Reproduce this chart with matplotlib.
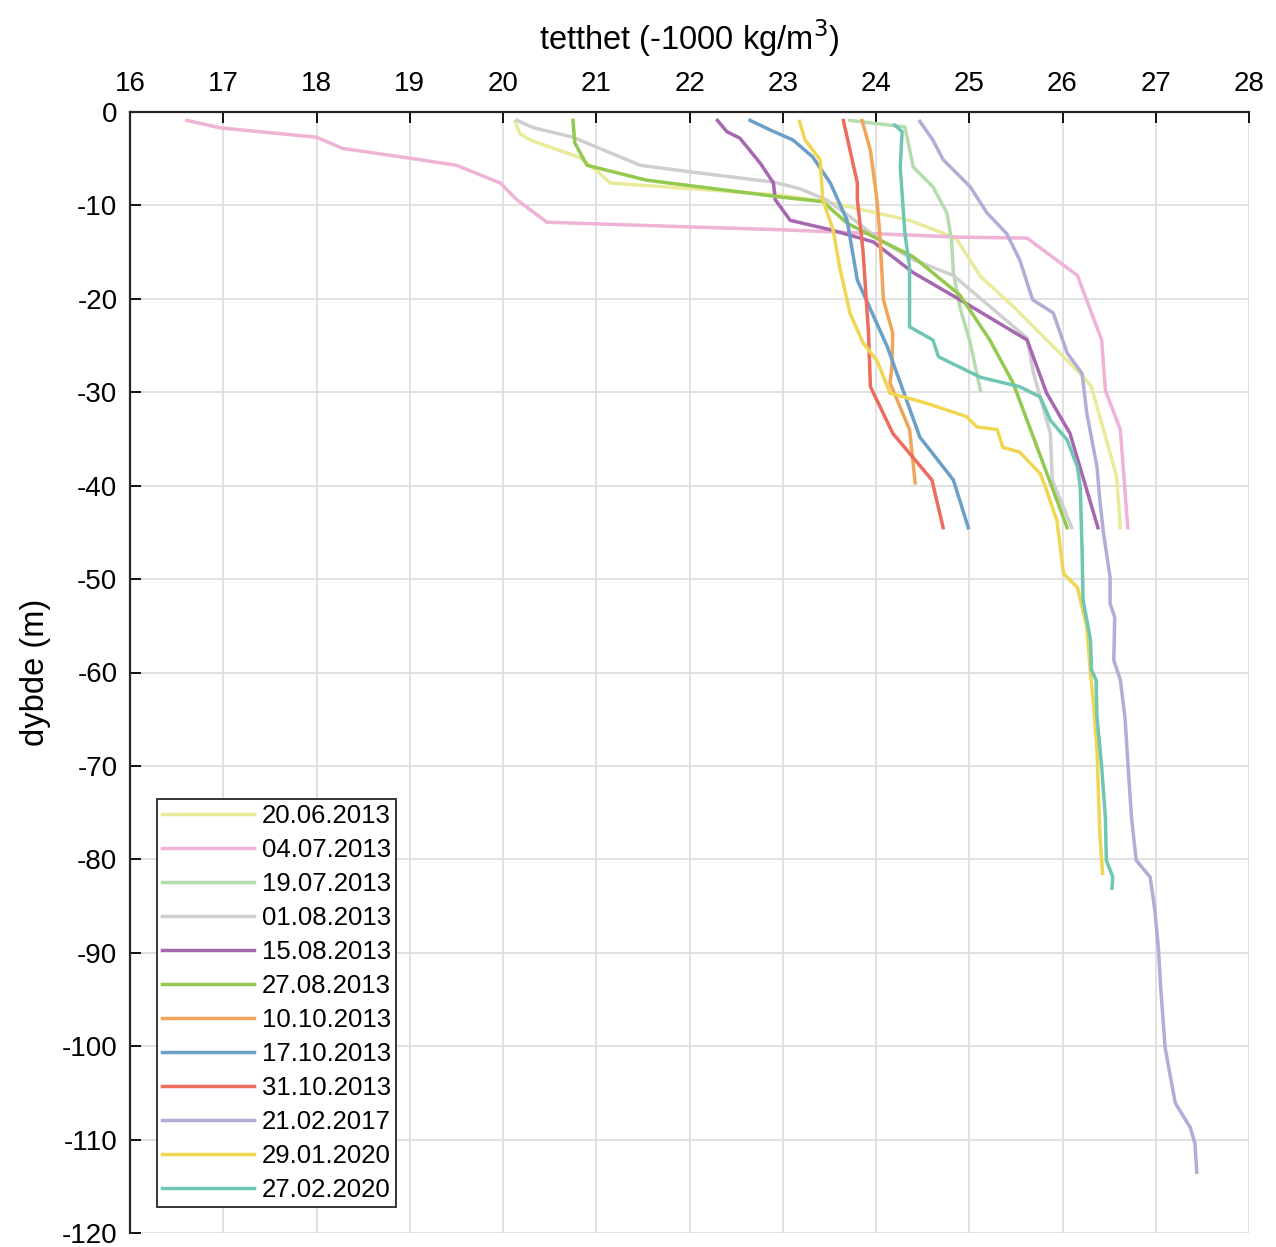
import matplotlib
matplotlib.use("Agg")
import matplotlib.pyplot as plt

plt.rcParams.update({
    "font.family": ["Liberation Sans", "DejaVu Sans"],
    "font.size": 19,
    "axes.unicode_minus": False,
})

# tetthet (sigma) og dybde for hvert tokt
d_20062013 = [20.15, 20.13, 20.18, 20.29, 20.83, 21.04, 21.15, 22.0, 22.97, 23.47, 23.69,
              24.36, 24.83, 24.87, 25.12, 25.47, 26.19, 26.31, 26.58, 26.62]
z_20062013 = [-0.9, -1.0, -2.3, -3.0, -4.9, -6.6, -7.6, -8.2, -8.9, -9.6, -10.1,
              -11.6, -13.4, -13.7, -17.6, -20.8, -28.0, -29.4, -39.0, -44.5]

d_04072013 = [16.61, 16.97, 18.0, 18.28, 18.97, 19.5, 19.97, 20.15, 20.47, 22.0, 22.97,
              24.9, 25.62, 26.16, 26.42, 26.46, 26.62, 26.70]
z_04072013 = [-0.9, -1.7, -2.7, -3.9, -4.9, -5.7, -7.6, -9.4, -11.8, -12.3, -12.6,
              -13.4, -13.5, -17.5, -24.4, -29.8, -34.0, -44.5]

d_19072013 = [23.72, 24.31, 24.40, 24.61, 24.76, 24.81, 24.83, 24.90, 25.01, 25.12]
z_19072013 = [-0.9, -1.6, -5.9, -8.0, -10.8, -13.7, -17.2, -20.9, -24.7, -29.8]

d_01082013 = [20.15, 20.33, 20.75, 21.47, 22.0, 22.9, 23.18, 23.47, 23.72, 24.04, 24.40,
              24.83, 25.62, 25.69, 25.87, 25.89, 26.10]
z_01082013 = [-0.9, -1.7, -2.7, -5.7, -6.4, -7.5, -8.2, -9.4, -11.2, -13.7, -15.8,
              -17.5, -24.2, -28.0, -34.4, -39.4, -44.5]

d_15082013 = [22.30, 22.40, 22.54, 22.76, 22.90, 22.92, 23.08, 23.51, 23.97, 24.40, 24.90,
              25.62, 25.83, 26.08, 26.38]
z_15082013 = [-0.9, -2.1, -2.8, -5.5, -7.6, -9.4, -11.6, -12.6, -13.9, -17.2, -20.1,
              -24.4, -30.1, -34.4, -44.5]

d_27082013 = [20.75, 20.77, 20.90, 21.54, 22.97, 23.43, 23.69, 24.04, 24.40, 24.90, 25.22,
              25.47, 26.05]
z_27082013 = [-0.9, -3.3, -5.7, -7.3, -9.1, -9.6, -11.9, -13.7, -15.5, -19.6, -24.4,
              -29.0, -44.5]

d_10102013 = [23.85, 23.94, 24.01, 24.04, 24.08, 24.18, 24.17, 24.15, 24.36, 24.42]
z_10102013 = [-0.9, -4.1, -9.4, -13.0, -20.1, -23.7, -27.3, -29.0, -34.0, -39.7]

d_17102013 = [22.65, 22.86, 23.11, 23.32, 23.51, 23.69, 23.80, 24.12, 24.29, 24.47, 24.83,
              24.99]
z_17102013 = [-0.9, -1.9, -3.0, -4.8, -7.6, -11.6, -18.0, -25.1, -29.8, -34.8, -39.4,
              -44.5]

d_31102013 = [23.65, 23.80, 23.80, 23.86, 23.92, 23.94, 24.18, 24.60, 24.72]
z_31102013 = [-0.9, -7.6, -9.4, -14.8, -23.7, -29.4, -34.4, -39.4, -44.5]

d_21022017 = [24.47, 24.61, 24.72, 24.90, 25.01, 25.19, 25.40, 25.54, 25.68, 25.90, 26.05,
              26.21, 26.26, 26.37, 26.40, 26.44, 26.51, 26.51, 26.56, 26.55, 26.62, 26.67,
              26.72, 26.74, 26.79, 26.94, 26.99, 27.03, 27.05, 27.10, 27.15, 27.21, 27.37,
              27.42, 27.44]
z_21022017 = [-1.0, -3.0, -5.1, -6.9, -8.0, -10.8, -13.0, -15.8, -20.1, -21.5, -25.8,
              -28.0, -32.2, -38.0, -41.5, -45.1, -49.8, -52.6, -54.1, -58.7, -60.8, -64.8,
              -72.6, -75.5, -80.1, -81.9, -85.4, -89.7, -93.3, -100.1, -102.9, -106.1, -108.7,
              -110.4, -113.5]

d_29012020 = [23.18, 23.24, 23.40, 23.43, 23.54, 23.61, 23.72, 23.86, 24.01, 24.15, 24.55,
              24.97, 25.08, 25.30, 25.36, 25.54, 25.76, 25.83, 25.90, 25.94, 26.01, 26.16,
              26.26, 26.30, 26.33, 26.37, 26.40, 26.43]
z_29012020 = [-1.0, -3.0, -5.1, -9.4, -12.6, -16.6, -21.5, -24.7, -26.6, -30.1, -31.2,
              -32.6, -33.7, -34.0, -35.9, -36.4, -38.7, -40.5, -42.6, -43.7, -49.4, -50.9,
              -55.1, -60.1, -63.0, -68.3, -77.2, -81.5]

d_27022020 = [24.20, 24.28, 24.26, 24.31, 24.36, 24.36, 24.61, 24.67, 25.12, 25.54, 25.76,
              25.87, 26.05, 26.16, 26.19, 26.21, 26.22, 26.30, 26.31, 26.36, 26.37, 26.42,
              26.46, 26.47, 26.54, 26.53]
z_27022020 = [-1.4, -2.1, -5.9, -13.0, -16.6, -23.0, -24.4, -26.2, -28.4, -29.4, -30.5,
              -33.0, -35.1, -38.0, -40.1, -46.9, -52.2, -56.5, -59.7, -60.8, -64.8, -70.1,
              -75.5, -80.1, -81.9, -83.1]

labels = ["20.06.2013", "04.07.2013", "19.07.2013", "01.08.2013", "15.08.2013",
          "27.08.2013", "10.10.2013", "17.10.2013", "31.10.2013", "21.02.2017",
          "29.01.2020", "27.02.2020"]
colors = ["#e9eb9b", "#eeb3d6", "#b5dcae", "#cfcfcf", "#a767b0", "#93c94f",
          "#f2a55a", "#6a9fc8", "#ee6b5f", "#b2acd6", "#f0d653", "#6fc6b2"]
series = [(d_20062013, z_20062013), (d_04072013, z_04072013), (d_19072013, z_19072013),
          (d_01082013, z_01082013), (d_15082013, z_15082013), (d_27082013, z_27082013),
          (d_10102013, z_10102013), (d_17102013, z_17102013), (d_31102013, z_31102013),
          (d_21022017, z_21022017), (d_29012020, z_29012020), (d_27022020, z_27022020)]

fig = plt.figure(figsize=(12.76, 12.47), dpi=100)
ax = fig.add_axes([130/1276, 1 - 1233/1247, (1249-130)/1276, (1233-112)/1247])

for (d, z), lbl, col in zip(series, labels, colors):
    ax.plot(d, z, color=col, lw=2.5, label=lbl)

ax.set_xlim(16, 28)
ax.set_ylim(-120, 0)
ax.set_xticks(range(16, 29))
ax.set_yticks(range(-120, 1, 10))
ax.xaxis.tick_top()
ax.xaxis.set_label_position("top")
ax.tick_params(direction="in", length=8, width=1.3, labelsize=20)
ax.tick_params(axis="x", pad=11)
ax.tick_params(axis="y", pad=9)
ax.spines["right"].set_visible(False)
ax.spines["bottom"].set_visible(False)
for s in ("left", "top"):
    ax.spines[s].set_linewidth(1.6)
    ax.spines[s].set_color("#262626")
ax.grid(True, color="#dcdcdc", lw=1.2)
ax.set_axisbelow(True)

ax.set_xlabel("tetthet (-1000 kg/m$^3$)", fontsize=23.5, labelpad=15)
ax.set_ylabel("dybde (m)", fontsize=23.5, labelpad=8)

leg = ax.legend(loc="lower left", bbox_to_anchor=(0.024, 0.023), fontsize=18.5,
                fancybox=False, framealpha=1, edgecolor="#262626",
                handlelength=3.6, handletextpad=0.3, labelspacing=0.39,
                borderpad=0.2, borderaxespad=0)
leg.get_frame().set_linewidth(1.3)

fig.savefig("out.png", dpi=100)
